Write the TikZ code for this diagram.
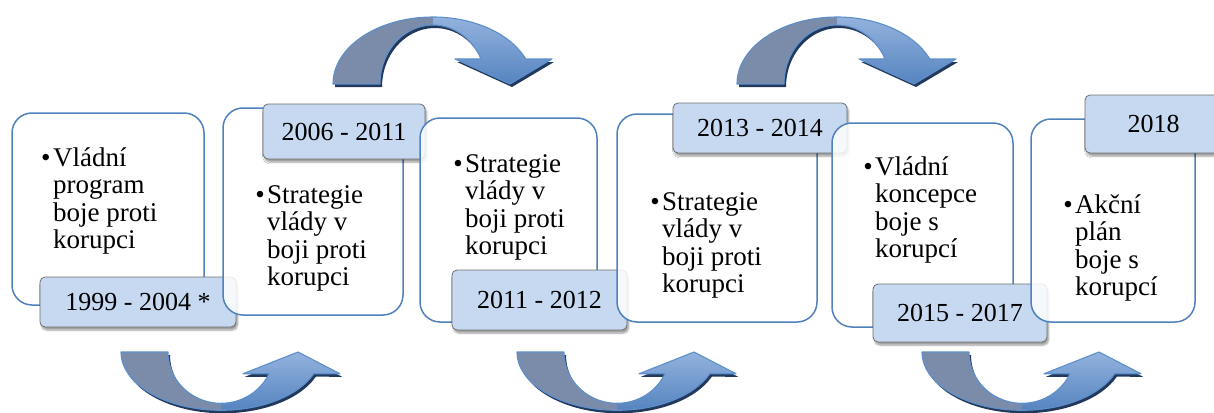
\documentclass[tikz,border=0pt]{standalone}
\usepackage{fontspec}
\setmainfont{Liberation Serif}
\usetikzlibrary{shadows.blur}
\definecolor{boxblue}{HTML}{4F81BD}
\definecolor{labfill}{HTML}{C6D9F1}
\definecolor{labline}{HTML}{6E6E6E}
\definecolor{argray}{HTML}{7A8CA9}
\definecolor{arlight}{HTML}{93B2DD}
\definecolor{armid}{HTML}{4F81BD}
\definecolor{ardark}{HTML}{5584C0}
\definecolor{arshadow}{HTML}{22395C}
\definecolor{arline}{HTML}{5F8FCB}
\tikzset{
  bbox/.style={draw=boxblue, line width=1.5pt, fill=white, fill opacity=0.85, draw opacity=1, rounded corners=20pt, inner sep=0pt},
  lab/.style={draw=labline, line width=0.8pt, fill=labfill, rounded corners=5pt, inner sep=0pt,
    font=\fontsize{26}{28}\selectfont, text=black,
    blur shadow={shadow xshift=1.5pt, shadow yshift=-3pt, shadow blur steps=6, shadow blur extra rounding=2pt, shadow opacity=40}},
  btext/.style={anchor=base west, inner sep=0pt, font=\fontsize{27}{27.5}\selectfont},
  arshad/.style={fill=arshadow},
  argrayfill/.style={fill=argray},
  arbluefill/.style={top color=arlight, middle color=armid, bottom color=ardark},
  arout/.style={draw=arline, line width=1.1pt, line join=round},
}
\newcommand\bl[1]{\llap{\textbullet\hspace{2.5pt}}\begin{tabular}[t]{@{}l@{}}#1\end{tabular}}
\def\fullarrow{(0,0) arc[start angle=180,end angle=21.9,x radius=100,y radius=67] -- (219,25) -- (177,0) -- (122,25) -- (148,25) arc[start angle=25.07,end angle=180,x radius=53,y radius=59] -- cycle}
\def\grayhalf{(0,0) arc[start angle=180,end angle=90,x radius=100,y radius=67] -- (100,59) arc[start angle=90,end angle=180,x radius=53,y radius=59] -- cycle}
\def\bluehalf{(100,67) arc[start angle=90,end angle=21.9,x radius=100,y radius=67] -- (219,25) -- (177,0) -- (122,25) -- (148,25) arc[start angle=25.07,end angle=90,x radius=53,y radius=59] -- cycle}
\newcommand\curvedarrow[3]{%
  \begin{scope}[shift={(#1+2,#2+3)}, yscale=#3]
    \fill[arshad] \fullarrow;
  \end{scope}
  \begin{scope}[shift={(#1,#2)}, yscale=#3]
    \fill[argrayfill] \grayhalf;
    \shade[arbluefill] \bluehalf;
    \draw[arout] \fullarrow;
  \end{scope}}
\begin{document}
\begin{tikzpicture}[x=1pt,y=-1pt]
\path[use as bounding box] (0,0) rectangle (1214,412);
\clip (0,0) rectangle (1214,412);
% box 1
\node[bbox, minimum width=192pt, minimum height=192pt] (b1) at (108,209) {};
\node[btext] (t1) at (53,166) {\bl{Vládní\\program\\boje proti\\korupci}};
\node[lab, minimum width=196pt, minimum height=50pt] (l1) at (138,302) {1999 - 2004 *};
% box 2
\node[bbox, minimum width=180pt, minimum height=207pt] (b2) at (313,211.5) {};
\node[btext] (t2) at (267,203) {\bl{Strategie\\vlády v\\boji proti\\korupci}};
\node[lab, minimum width=162pt, minimum height=55pt] (l2) at (344,131.5) {2006 - 2011};
% box 3
\node[bbox, minimum width=177pt, minimum height=204pt] (b3) at (508.5,220) {};
\node[btext] (t3) at (465,172) {\bl{Strategie\\vlády v\\boji proti\\korupci}};
\node[lab, minimum width=175pt, minimum height=60pt] (l3) at (539.5,300) {2011 - 2012};
% box 4
\node[bbox, minimum width=200pt, minimum height=208pt] (b4) at (717,218) {};
\node[btext] (t4) at (662,210) {\bl{Strategie\\vlády v\\boji proti\\korupci}};
\node[lab, minimum width=174pt, minimum height=50pt] (l4) at (760,128) {2013 - 2014};
% box 5
\node[bbox, minimum width=181pt, minimum height=204pt] (b5) at (922.5,225) {};
\node[btext] (t5) at (875,175) {\bl{Vládní\\koncepce\\boje s\\korupcí}};
\node[lab, minimum width=174pt, minimum height=58pt] (l5) at (960,313) {2015 - 2017};
% box 6
\node[bbox, minimum width=164pt, minimum height=203pt] (b6) at (1113,220.5) {};
\node[btext] (t6) at (1075,213) {\bl{Akční\\plán\\boje s\\korupcí}};
\node[lab, minimum width=137pt, minimum height=58pt] (l6) at (1153.5,124) {2018};
% arrows
\curvedarrow{333}{84}{-1}
\curvedarrow{737}{84}{-1}
\curvedarrow{121}{352}{0.87}
\curvedarrow{517}{352}{0.87}
\curvedarrow{922}{352}{0.87}
\end{tikzpicture}
\end{document}
